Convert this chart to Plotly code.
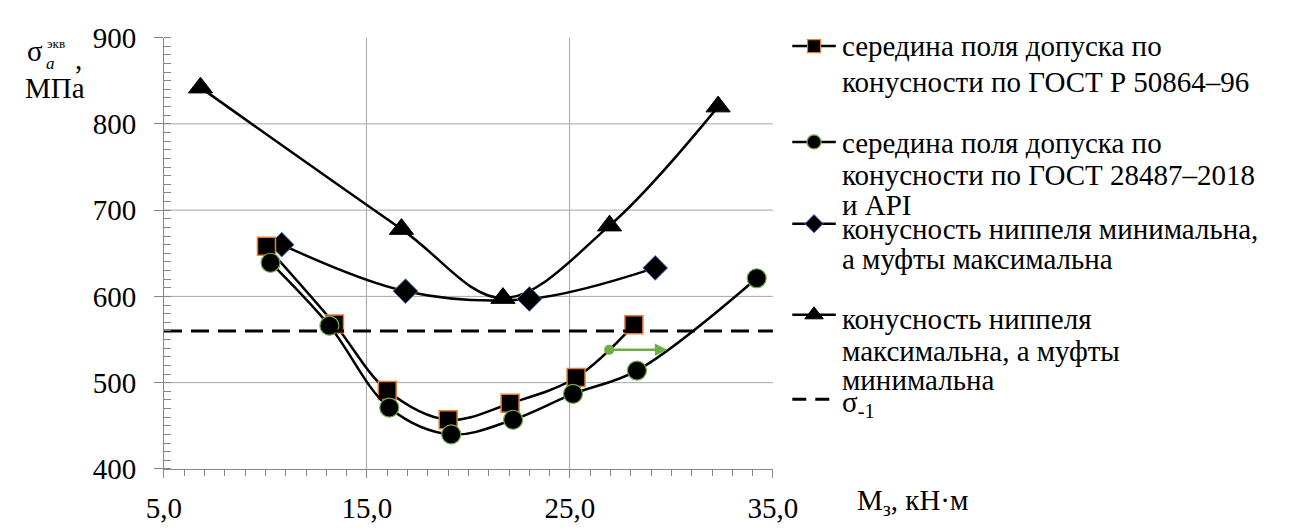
import plotly.graph_objects as go

# ---------------- data ----------------
x_sq = [10.05, 13.4, 16.0, 19.0, 22.05, 25.3, 28.15]
y_sq = [658, 568, 491, 457, 476, 506, 567]

x_ci = [10.25, 13.15, 16.1, 19.15, 22.2, 25.15, 28.3, 34.2]
y_ci = [639, 566, 471, 440, 457, 487, 514, 621]

x_di = [10.8, 16.9, 23.0, 29.2]
y_di = [660, 606, 597, 633]

x_tr = [6.8, 16.7, 21.7, 26.95, 32.3]
y_tr = [842, 678, 598, 682, 820]

sigma_x = [5, 35]
sigma_val = 560

arrow_x = [26.93, 29.8]
arrow_y = 538

x_ticks = [5, 15, 25, 35]
y_ticks = [400, 500, 600, 700, 800, 900]

legend_names = [
    ["середина поля допуска по", "конусности по ГОСТ Р 50864–96"],
    ["середина поля допуска по", "конусности по ГОСТ 28487–2018", "и API"],
    ["конусность ниппеля минимальна,", "а муфты максимальна"],
    ["конусность ниппеля", "максимальна, а муфты", "минимальна"],
    ["σ<sub>-1</sub>"],
]

# ---------------- styling ----------------
W, H = 1289, 530
PL, PR, PT, PB = 151, 781, 23, 482      # plot area in pixels
FONT = "Liberation Serif, Times New Roman, serif"
FS = 29
GRID = "#a6a6a6"
AXC = "#868686"
ORANGE = "#ed7d31"
GREEN = "#70ad47"
BLUE = "#4472c4"
LW = 2.5

fig = go.Figure()

line_common = dict(color="black", width=LW, shape="spline", smoothing=1)

fig.add_trace(go.Scatter(x=x_tr, y=y_tr, mode="lines+markers", line=line_common,
                         marker=dict(symbol="triangle-up", size=21, color="black",
                                     line=dict(color="black", width=1)),
                         showlegend=False))
fig.add_trace(go.Scatter(x=x_di, y=y_di, mode="lines+markers", line=line_common,
                         marker=dict(symbol="diamond", size=19, color="black",
                                     line=dict(color=BLUE, width=1)),
                         showlegend=False))
fig.add_trace(go.Scatter(x=x_sq, y=y_sq, mode="lines+markers", line=line_common,
                         marker=dict(symbol="square", size=18, color="black",
                                     line=dict(color=ORANGE, width=1.5)),
                         showlegend=False))
fig.add_trace(go.Scatter(x=x_ci, y=y_ci, mode="lines+markers", line=line_common,
                         marker=dict(symbol="circle", size=19, color="black",
                                     line=dict(color=GREEN, width=1.2)),
                         showlegend=False))
fig.add_trace(go.Scatter(x=sigma_x, y=[sigma_val] * len(sigma_x), mode="lines",
                         line=dict(color="black", width=3, dash="18px,9px"),
                         showlegend=False))

# green arrow: dot at the start, arrow to the end
fig.add_trace(go.Scatter(x=[arrow_x[0]], y=[arrow_y], mode="markers",
                         marker=dict(color=GREEN, size=10), showlegend=False))
fig.add_annotation(x=arrow_x[1], y=arrow_y, ax=arrow_x[0], ay=arrow_y,
                   xref="x", yref="y", axref="x", ayref="y", text="",
                   showarrow=True, arrowhead=2, arrowsize=1, arrowwidth=2.5,
                   arrowcolor=GREEN)

# y gridlines (no line at the top edge)
for v in y_ticks[1:-1]:
    fig.add_shape(type="line", xref="x domain", yref="y", x0=0, x1=1, y0=v, y1=v,
                  line=dict(color=GRID, width=1), layer="below")

# ---------------- manual legend on a pixel overlay axis ----------------
SYM_X0, SYM_X1, SYM_XC = 801, 846, 823.5
TXT_X = 850
sym_y = [32, 134, 221, 318, 408]
line_y = [[32, 70], [135, 169, 201], [227, 259], [322, 356, 387], [413]]
legend_markers = [
    dict(symbol="square", size=13, color="black", line=dict(color=ORANGE, width=1.2)),
    dict(symbol="circle", size=14, color="black", line=dict(color=GREEN, width=1.2)),
    dict(symbol="diamond", size=14, color="black", line=dict(color=BLUE, width=1)),
    dict(symbol="triangle-up", size=16, color="black", line=dict(color="black", width=1)),
    None,
]
for i, (sy, mk) in enumerate(zip(sym_y, legend_markers)):
    dash = "solid" if mk else "14px,9px"
    fig.add_trace(go.Scatter(x=[SYM_X0, SYM_X1], y=[sy, sy], mode="lines",
                             line=dict(color="black", width=LW if mk else 3, dash=dash),
                             xaxis="x2", yaxis="y2", showlegend=False))
    if mk:
        fig.add_trace(go.Scatter(x=[SYM_XC], y=[sy], mode="markers", marker=mk,
                                 xaxis="x2", yaxis="y2", showlegend=False))
    for txt, ly in zip(legend_names[i], line_y[i]):
        fig.add_annotation(x=TXT_X, y=ly, xref="x2", yref="y2", text=txt,
                           showarrow=False, xanchor="left", yanchor="middle",
                           font=dict(family=FONT, size=FS, color="black"))

# axis title pieces
def label(x, y, text, size, anchor="center"):
    fig.add_annotation(x=x, y=y, xref="x2", yref="y2", text=text, showarrow=False,
                       xanchor=anchor, yanchor="middle",
                       font=dict(family=FONT, size=size, color="black"))

label(17.5, 37, "σ", FS)
label(39, 29, "экв", 13)
label(33.5, 51, "<i>a</i>", 17)
label(63, 46, ",", FS)
label(38, 77, "МПа", FS)
label(866, 517, "M<sub>з</sub>, кН·м", FS, anchor="left")

tickfont = dict(family=FONT, size=FS, color="black")
fig.update_layout(
    width=W, height=H,
    margin=dict(l=0, r=0, t=0, b=0),
    paper_bgcolor="white", plot_bgcolor="rgba(0,0,0,0)",
    font=dict(family=FONT, size=FS, color="black"),
    separators=", ",
    showlegend=False,
    xaxis=dict(domain=[PL / W, PR / W], range=[5, 35], tickvals=x_ticks,
               tickformat=".1f", showgrid=True, gridcolor=GRID, gridwidth=1,
               showline=True, linecolor=AXC, linewidth=1, zeroline=False,
               ticks="outside", ticklen=8, tickcolor=AXC, tickfont=tickfont,
               minor=dict(dtick=1, tick0=5, ticks="outside", ticklen=6, tickcolor=AXC,
                          showgrid=False),
               anchor="y", fixedrange=True, ticklabelstandoff=5),
    yaxis=dict(domain=[(H - PB) / H, (H - PT) / H], range=[400, 900], tickvals=y_ticks,
               showgrid=False, showline=True, linecolor=AXC, linewidth=1, zeroline=False,
               ticks="outside", ticklen=9, tickcolor=AXC, tickfont=tickfont,
               minor=dict(dtick=10, tick0=400, ticks="inside", ticklen=7, tickcolor=AXC,
                          showgrid=False),
               anchor="x", fixedrange=True, ticklabelstandoff=12),
    xaxis2=dict(domain=[0, 1], range=[0, W], visible=False, anchor="y2", fixedrange=True),
    yaxis2=dict(domain=[0, 1], range=[H, 0], visible=False, anchor="x2", fixedrange=True),
)

fig.write_html("out.html")
